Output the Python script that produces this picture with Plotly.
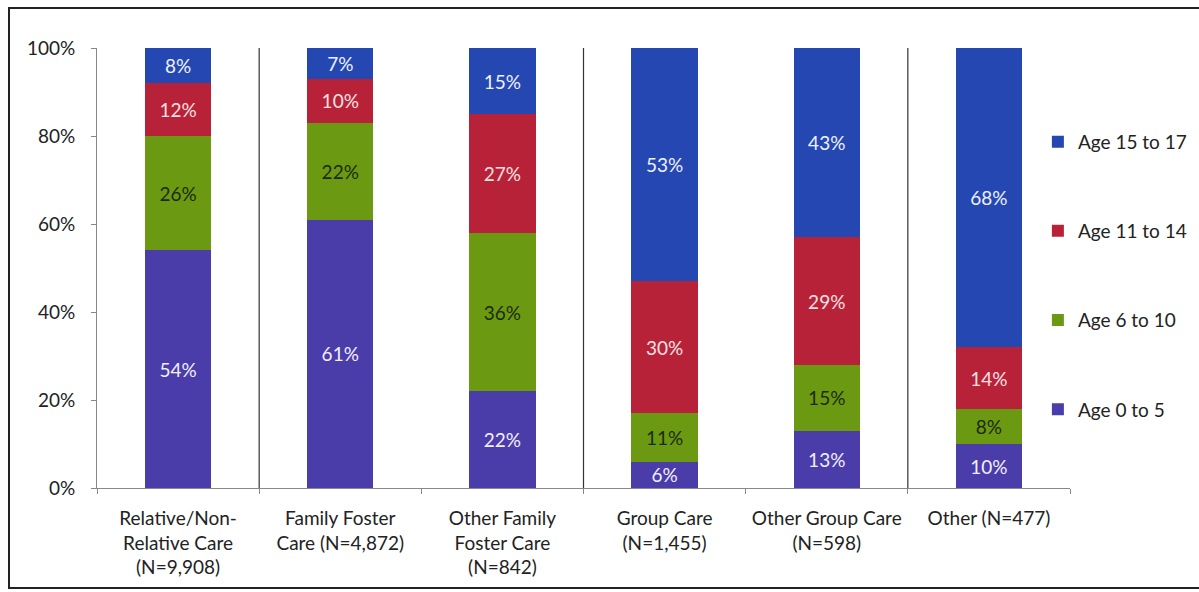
import plotly.graph_objects as go

# Placement categories (x-axis labels)
categories = [
    "Relative/Non-<br>Relative Care<br>(N=9,908)",
    "Family Foster<br>Care (N=4,872)",
    "Other Family<br>Foster Care<br>(N=842)",
    "Group Care<br>(N=1,455)",
    "Other Group Care<br>(N=598)",
    "Other (N=477)",
]

# Percent of children in each age band, per placement type
age_0_5 = [54, 61, 22, 6, 13, 10]
age_6_10 = [26, 22, 36, 11, 15, 8]
age_11_14 = [12, 10, 27, 30, 29, 14]
age_15_17 = [8, 7, 15, 53, 43, 68]

y_ticks = [0, 20, 40, 60, 80, 100]

# name, values, fill, label colour, legend rank (oldest band listed first)
series = [
    ("Age 0 to 5", age_0_5, "#4a3ca9", "#f2f0ff", 4),
    ("Age 6 to 10", age_6_10, "#6b9a12", "#1c2a06", 3),
    ("Age 11 to 14", age_11_14, "#b82239", "#fbe0e0", 2),
    ("Age 15 to 17", age_15_17, "#2547b2", "#eef2ff", 1),
]

FONT = "Lato, 'Open Sans', sans-serif"
FS = 19
W, H = 1199, 592
L, R, T, B = 97, 129, 48, 104

fig = go.Figure()
for name, vals, color, tcolor, rank in series:
    fig.add_trace(go.Bar(
        x=categories,
        y=vals,
        name=name,
        legendgroup=name,
        legendrank=rank,
        marker=dict(color=color, line=dict(width=0)),
        texttemplate="%{y}%",
        textposition="inside",
        insidetextanchor="middle",
        textangle=0,
        constraintext="none",
        textfont=dict(family=FONT, size=FS, color=tcolor),
        hoverinfo="skip",
    ))

# Vertical separators between placement groups
shapes = []
for xb in [0.5, 2.5, 4.5]:
    shapes.append(dict(type="line", xref="x", yref="y", x0=xb, x1=xb, y0=0, y1=100,
                       line=dict(color="#333333", width=1.2)))

# Outer frame around the chart (right edge runs off the canvas)
pw, ph = W - L - R, H - T - B
fx0, fx1 = (9 - L) / pw, (1210 - L) / pw
fy0, fy1 = (H - B - 588) / ph, (H - B - 8) / ph
shapes.append(dict(type="rect", xref="paper", yref="paper", x0=fx0, x1=fx1, y0=fy0, y1=fy1,
                   line=dict(color="#222222", width=2), fillcolor="rgba(0,0,0,0)", layer="below"))

fig.update_layout(
    width=W, height=H,
    margin=dict(l=L, r=R, t=T, b=B, pad=0, autoexpand=False),
    barmode="stack",
    bargap=0.59,
    plot_bgcolor="white",
    paper_bgcolor="white",
    font=dict(family=FONT, size=FS, color="#222222"),
    shapes=shapes,
    showlegend=True,
    legend=dict(
        x=0.967, xanchor="left", y=0.83, yanchor="top",
        traceorder="grouped",
        tracegroupgap=61.5,
        font=dict(family=FONT, size=FS, color="#222222"),
        bgcolor="rgba(0,0,0,0)",
    ),
    uniformtext=dict(mode=False),
)

fig.update_xaxes(
    showline=True, linecolor="#888888", linewidth=1,
    tickson="boundaries", ticks="outside", ticklen=5, tickcolor="#888888",
    ticklabelstandoff=13,
    tickfont=dict(family=FONT, size=FS, color="#222222"),
    showgrid=False, zeroline=False, fixedrange=True,
)
fig.update_yaxes(
    range=[0, 100], tickvals=y_ticks, ticktext=[f"{v}%" for v in y_ticks],
    showline=True, linecolor="#888888", linewidth=1,
    ticks="outside", ticklen=5, tickcolor="#888888",
    ticklabelstandoff=12,
    tickfont=dict(family=FONT, size=FS, color="#222222"),
    showgrid=False, zeroline=False, fixedrange=True,
)

fig.write_html("out.html", config={"displayModeBar": False})
